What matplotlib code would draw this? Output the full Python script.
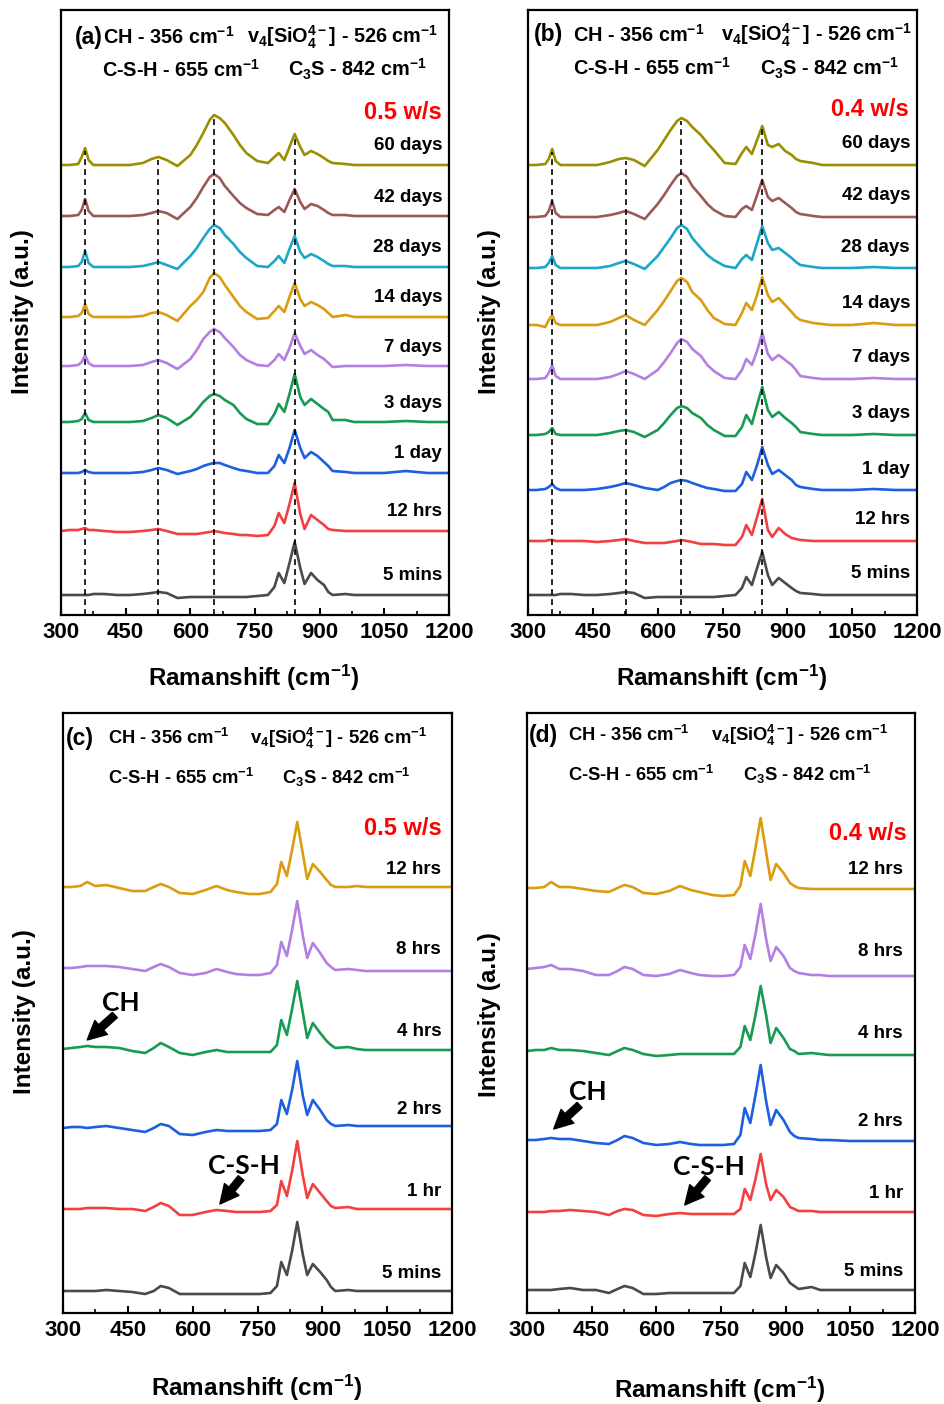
"""
Raman spectra of hydrating C3S pastes, stacked by curing time
"""

import numpy as np
import matplotlib.pyplot as plt
from matplotlib.ticker import MultipleLocator, AutoMinorLocator

plt.rcParams['font.family'] = ['Liberation Sans', 'DejaVu Sans']
plt.rcParams['font.weight'] = 'bold'
plt.rcParams['mathtext.fontset'] = 'custom'
plt.rcParams['mathtext.rm'] = 'Liberation Sans:bold'
plt.rcParams['mathtext.it'] = 'Liberation Sans:bold'
plt.rcParams['mathtext.bf'] = 'Liberation Sans:bold'
plt.rcParams['mathtext.default'] = 'rm'

W, H = 944, 1404

# Raman shift grids (cm-1)
shift_ab = [300, 320, 340, 348, 356, 364, 375, 400, 430, 460,
            490, 510, 526, 545, 570, 600, 615, 630, 645, 655,
            668, 680, 700, 715, 730, 755, 780, 795, 805, 818,
            830, 842, 855, 865, 880, 895, 910, 920, 930, 960,
            980, 1000, 1050, 1100, 1150, 1200]
shift_cd = [300, 320, 340, 356, 375, 400, 430, 460, 490, 510,
            526, 545, 570, 600, 630, 655, 680, 700, 730, 755,
            780, 795, 805, 818, 830, 842, 855, 865, 878, 895,
            910, 920, 930, 960, 980, 1000, 1050, 1100, 1150, 1200]

# (a) w/s 0.5, long term -- intensity above each trace baseline (a.u.)
a_5min = [0, 0, 0, 0, 0, 0, 1, 1, 0, 0, 1, 2, 3, 2, -3,
          -2, -2, -2, -2, -2, -2, -2, -2, -2, -2,
          -1, 0, 8, 22, 12, 32, 53, 27, 11, 22, 15, 10, 3, 0, 1, 0, 0, 0, 0, 0, 0]
a_12h = [0, 1, 1, 2, 3, 1, 1, 0, -1, -1, 0, 1, 2, 0, -3,
         -3, -3, -2, -1, 0, -1, -2, -3, -4, -4,
         -5, -4, 5, 18, 8, 27, 48, 17, 2, 16, 11, 6, 2, 1, 0, 0, 0, 0, 0, 0, 0]
a_1d = [0, 0, 0, 1, 3, 1, 0, 0, 0, 0, 1, 3, 5, 3, -1,
        2, 4, 7, 9, 10, 10, 8, 5, 3, 2,
        0, 0, 7, 18, 10, 25, 43, 25, 15, 21, 17, 11, 7, 2, 1, 0, 0, 0, 2, 0, 0]
a_3d = [0, 0, 1, 3, 9, 2, 0, 0, 0, 0, 1, 4, 7, 4, -3,
        5, 12, 20, 26, 28, 26, 22, 17, 9, 3,
        -2, -2, 8, 18, 10, 28, 48, 25, 17, 23, 18, 13, 10, 2, 2, 0, 0, 0, 1, 0, 0]
a_7d = [0, 0, 1, 4, 11, 3, 0, 0, 0, 0, 1, 4, 6, 3, -3,
        7, 16, 27, 34, 37, 34, 28, 19, 11, 6,
        1, 0, 6, 12, 6, 18, 33, 20, 12, 16, 11, 7, 3, -1, 0, 0, 0, 0, 1, 0, 0]
a_14d = [0, 0, 1, 4, 13, 3, 0, 0, 0, 0, 1, 4, 5, 2, -4,
         11, 17, 25, 39, 44, 40, 32, 20, 11, 5,
         -2, -1, 6, 11, 5, 20, 34, 18, 11, 15, 12, 8, 4, 0, 2, 0, 0, 0, 0, 0, 0]
a_28d = [0, 0, 1, 5, 16, 4, 0, 0, 0, 0, 1, 3, 5, 2, -2,
         11, 19, 29, 38, 42, 39, 32, 23, 15, 9,
         1, 0, 6, 11, 4, 18, 31, 15, 9, 13, 10, 6, 3, 1, 1, 0, 0, 0, 0, 0, 0]
a_42d = [0, 0, 1, 6, 17, 5, 0, 0, 0, 0, 1, 3, 5, 3, -3,
         9, 18, 29, 39, 42, 38, 30, 20, 13, 8,
         2, 1, 6, 9, 4, 16, 27, 14, 7, 12, 10, 6, 3, 1, 1, 0, 0, 0, 0, 0, 0]
a_60d = [0, 0, 1, 8, 17, 5, 0, 0, 0, 0, 2, 6, 8, 5, -1,
         10, 20, 32, 45, 50, 47, 42, 30, 20, 12,
         4, 2, 8, 12, 5, 18, 31, 18, 10, 14, 11, 7, 4, 2, 1, 0, 0, 0, 0, 0, 0]

# (b) w/s 0.4, long term
b_5min = [0, 0, 0, 0, 0, 0, 1, 1, 0, 0, 1, 2, 3, 2, -3,
          -2, -2, -2, -2, -2, -2, -2, -2, -2, -2,
          -1, 0, 7, 18, 10, 27, 43, 20, 10, 17, 12, 7, 4, 2, 1, 0, 0, 0, 0, 0, 0]
b_12h = [0, 0, 0, 1, 1, 0, 0, 0, 0, -1, 0, 1, 2, 0, -2,
         -2, -2, -1, 0, 1, 0, -1, -3, -3, -3,
         -4, -4, 4, 16, 6, 24, 42, 11, 4, 13, 7, 3, 2, 1, 0, 0, 0, 0, 0, 0, 0]
b_1d = [0, 0, 1, 3, 6, 2, 0, 0, 0, 1, 3, 5, 7, 5, 2,
        0, 3, 7, 9, 10, 9, 7, 4, 2, 1,
        -1, -1, 6, 18, 10, 25, 43, 25, 16, 20, 15, 10, 5, 3, 1, 0, 0, 0, 1, 0, 0]
b_3d = [0, 0, 1, 3, 7, 1, 0, 0, 0, 0, 2, 4, 5, 3, -2,
        5, 12, 20, 27, 29, 27, 22, 17, 10, 5,
        -1, -1, 8, 20, 11, 30, 48, 25, 18, 23, 17, 12, 8, 3, 1, 0, 0, 0, 1, 0, 0]
b_7d = [0, 0, 1, 6, 14, 3, 0, 0, 0, 0, 2, 5, 8, 5, 0,
        9, 17, 26, 36, 40, 37, 30, 23, 14, 8,
        1, 0, 9, 20, 14, 28, 46, 25, 19, 24, 19, 14, 9, 3, 1, 0, 0, 0, 1, 0, 0]
b_14d = [0, 0, -2, 5, 10, 2, 0, 0, 0, 0, 3, 7, 10, 5, 0,
         15, 24, 34, 44, 47, 43, 33, 25, 15, 7,
         1, 0, 12, 22, 15, 30, 48, 30, 23, 27, 20, 13, 8, 5, 2, 1, 0, 0, 2, 0, 0]
b_28d = [0, 0, 1, 5, 12, 3, 0, 0, 0, 0, 2, 5, 7, 4, -1,
         12, 21, 30, 40, 43, 39, 30, 20, 13, 8,
         2, 0, 9, 13, 8, 25, 42, 25, 18, 20, 15, 10, 6, 3, 1, 0, 0, 0, 1, 0, 0]
b_42d = [0, 0, 1, 6, 16, 4, 0, 0, 0, 0, 2, 4, 6, 3, -2,
         13, 22, 32, 41, 44, 40, 31, 21, 13, 7,
         1, 0, 8, 11, 7, 22, 37, 20, 16, 19, 14, 9, 5, 3, 1, 0, 0, 0, 0, 0, 0]
b_60d = [0, 0, 1, 6, 16, 4, 0, 0, 0, 0, 3, 6, 7, 5, -1,
         15, 25, 35, 44, 47, 44, 38, 30, 22, 15,
         2, 1, 12, 18, 11, 25, 39, 20, 18, 21, 14, 10, 6, 4, 2, 0, 0, 0, 0, 0, 0]

# (c) w/s 0.5, early age
c_5min = [0, 0, 0, 0, 0, 1, 0, -1, -3, 0, 5, 3, -3, -3, -3, -3, -3, -3, -3, -3,
          -2, 5, 29, 16, 40, 69, 36, 16, 27, 19, 11, 4, 0, 1, 0, 0, 0, 0, 0, 0]
c_1h = [0, 0, 0, 1, 1, 1, 0, 0, -2, 2, 6, 3, -6, -6, -3, -1, -2, -3, -3, -3,
        -2, 4, 28, 13, 38, 68, 33, 11, 25, 16, 8, 3, 1, 2, 0, 0, 0, 0, 0, 0]
c_2h = [0, 1, 1, 0, 1, 2, 0, -2, -4, 0, 4, 2, -6, -7, -4, -2, -3, -3, -3, -3,
        -2, 4, 28, 14, 38, 67, 32, 13, 28, 18, 8, 4, 2, 3, 2, 2, 2, 2, 2, 2]
c_4h = [0, 1, 2, 3, 2, 2, 1, -2, -4, 1, 6, 2, -4, -6, -3, -1, -3, -3, -3, -3,
        -3, 4, 29, 14, 40, 68, 36, 11, 26, 16, 8, 4, 1, 2, 0, -1, -1, -1, -1, -1]
c_8h = [0, 0, 1, 2, 2, 2, 1, -1, -3, 1, 4, 1, -5, -7, -5, -1, -4, -6, -7, -7,
        -5, 3, 26, 12, 38, 67, 32, 10, 25, 15, 5, 1, -2, -1, -2, -3, -3, -3, -3, -3]
c_12h = [0, 0, 1, 5, 1, 2, -1, -4, -4, 0, 3, 0, -6, -7, -3, 1, -3, -5, -7, -7,
         -5, 3, 25, 11, 37, 65, 33, 8, 23, 15, 7, 2, 0, 0, 1, 0, 0, 0, 0, 0]

# (d) w/s 0.4, early age
d_5min = [0, 0, 0, 0, 1, 2, 0, 0, -3, 1, 4, 2, -4, -4, -3, -3, -3, -3, -3, -3,
          -3, 4, 27, 13, 37, 65, 32, 12, 25, 17, 7, 4, 1, 3, 0, 0, 0, 0, 0, 0]
d_1h = [0, 0, 0, 1, 1, 2, 1, 0, -3, 1, 3, 2, -3, -4, -2, -1, -2, -2, -2, -2,
        -2, 3, 23, 12, 33, 58, 27, 12, 22, 15, 5, 3, 1, 1, 0, 0, 0, 0, 0, 0]
d_2h = [0, 0, 1, 2, 1, 1, -1, -3, -4, 0, 4, 2, -3, -5, -4, -2, -4, -5, -5, -5,
        -4, 5, 32, 17, 45, 75, 38, 15, 30, 20, 8, 4, 2, 1, 0, 0, -1, -1, -1, -1]
d_4h = [0, 1, 1, 3, 1, 1, 0, -2, -4, 0, 3, 1, -3, -5, -4, -3, -3, -3, -3, -3,
        -3, 4, 25, 11, 36, 65, 35, 8, 23, 13, 2, 0, -3, -2, -3, -4, -4, -4, -4, -4]
d_8h = [0, 1, 2, 4, 0, 0, -2, -6, -6, -2, 2, 0, -6, -7, -5, -1, -4, -6, -7, -7,
        -6, 2, 24, 10, 35, 65, 29, 8, 22, 13, 1, -2, -4, -6, -6, -7, -7, -7, -7, -7]
d_12h = [0, 0, 1, 6, 1, 1, -1, -3, -4, 0, 3, 1, -5, -6, -3, 2, -2, -4, -7, -8,
         -7, 2, 27, 12, 40, 70, 35, 8, 24, 15, 5, 2, 0, -1, -1, -1, -1, -1, -1, -1]

times_long = ['5 mins', '12 hrs', '1 day', '3 days', '7 days',
              '14 days', '28 days', '42 days', '60 days']
times_early = ['5 mins', '1 hr', '2 hrs', '4 hrs', '8 hrs', '12 hrs']

colors_long = ['#4a4a4a', '#f23f3f', '#1c5fe0', '#179a52', '#b47fe3',
               '#dc9c10', '#1ba7c9', '#9c5856', '#999000']
colors_early = colors_long[:6]

peaks = [356, 526, 655, 842]

fig = plt.figure(figsize=(W / 100, H / 100), dpi=100)


def add_ax(left, top, right, bottom):
    return fig.add_axes([left / W, 1 - bottom / H, (right - left) / W, (bottom - top) / H])


def draw_panel(ax, shift, spectra, offsets, names, colors, height, lab_x, lab_dy, dashed):
    for y, off, name, col in zip(spectra, offsets, names, colors):
        ax.plot(shift, np.array(y) + off, color=col, lw=1.9, solid_joinstyle='round')
        ax.text(lab_x, off + lab_dy, name, ha='right', va='center', fontsize=13.5)
    if dashed:
        top = np.array(spectra[-1]) + offsets[-1]
        for p in peaks:
            ax.vlines(p, 0, np.interp(p, shift, top) - 3, colors='k',
                      linestyles=(0, (3.5, 2.5)), lw=1.2, zorder=3)
    ax.set_xlim(300, 1200)
    ax.set_ylim(0, height)
    ax.xaxis.set_major_locator(MultipleLocator(150))
    ax.xaxis.set_minor_locator(AutoMinorLocator(2))
    ax.tick_params(axis='x', which='major', direction='in', length=5, width=1.5,
                   labelsize=16, pad=5)
    ax.tick_params(axis='x', which='minor', direction='in', length=3, width=1.2)
    ax.set_yticks([])
    for s in ax.spines.values():
        s.set_linewidth(1.6)


def header(ax, tag, xs, ys, size):
    x_tag, x_ch, x_v4, x_csh, x_c3s = xs
    y1, y2 = ys
    kw = dict(transform=ax.transAxes, va='center', ha='left', fontsize=size)
    ax.text(x_tag, y1, tag, transform=ax.transAxes, va='center', ha='left', fontsize=16.5)
    ax.text(x_ch, y1, r'CH - 356 cm$^{-1}$', **kw)
    ax.text(x_v4, y1, r'v$_4$[SiO$_4^{4-}$] - 526 cm$^{-1}$', **kw)
    ax.text(x_csh, y2, r'C-S-H - 655 cm$^{-1}$', **kw)
    ax.text(x_c3s, y2, r'C$_3$S - 842 cm$^{-1}$', **kw)


def ws_label(ax, text, x, y):
    ax.text(x, y, text, transform=ax.transAxes, ha='right', va='center',
            color='#ff0000', fontsize=17)


def pointer(ax, text, xy_text, tail, tip):
    ax.annotate('', xy=tip, xytext=tail,
                arrowprops=dict(arrowstyle='simple,head_length=0.9,head_width=0.9,tail_width=0.35',
                                color='k', shrinkA=0, shrinkB=0, mutation_scale=15))
    ax.text(*xy_text, text, ha='center', va='center', fontsize=19,
            family=['Lato', 'DejaVu Sans'], fontweight='bold')


ax_a = add_ax(61, 10, 449, 615)
ax_b = add_ax(528, 10, 917, 615)
ax_c = add_ax(63, 713, 452, 1313)
ax_d = add_ax(527, 713, 915, 1313)

draw_panel(ax_a, shift_ab,
           [a_5min, a_12h, a_1d, a_3d, a_7d, a_14d, a_28d, a_42d, a_60d],
           [20, 84, 142, 193, 249, 298, 348, 399, 450],
           times_long, colors_long, 605, 1184, 19, True)
draw_panel(ax_b, shift_ab,
           [b_5min, b_12h, b_1d, b_3d, b_7d, b_14d, b_28d, b_42d, b_60d],
           [20, 74, 125, 180, 236, 290, 347, 398, 450],
           times_long, colors_long, 605, 1184, 21, True)
draw_panel(ax_c, shift_cd,
           [c_5min, c_1h, c_2h, c_4h, c_8h, c_12h],
           [22, 104, 185, 264, 345, 426],
           times_early, colors_early, 600, 1175, 18, False)
draw_panel(ax_d, shift_cd,
           [d_5min, d_1h, d_2h, d_4h, d_8h, d_12h],
           [23, 101, 173, 262, 344, 425],
           times_early, colors_early, 600, 1172, 18, False)

header(ax_a, '(a)', (0.036, 0.108, 0.480, 0.105, 0.585), (0.955, 0.901), 14.3)
header(ax_b, '(b)', (0.016, 0.116, 0.497, 0.116, 0.596), (0.959, 0.904), 14.3)
header(ax_c, '(c)', (0.008, 0.116, 0.481, 0.116, 0.563), (0.958, 0.892), 13.2)
header(ax_d, '(d)', (0.006, 0.106, 0.475, 0.106, 0.557), (0.963, 0.897), 13.2)

ws_label(ax_a, '0.5 w/s', 0.982, 0.831)
ws_label(ax_b, '0.4 w/s', 0.979, 0.835)
ws_label(ax_c, '0.5 w/s', 0.974, 0.808)
ws_label(ax_d, '0.4 w/s', 0.979, 0.800)

pointer(ax_c, 'CH', (434, 310), (420, 298), (356, 273))
pointer(ax_c, 'C-S-H', (719, 147), (712, 135), (663, 109))
pointer(ax_d, 'CH', (441, 221), (422, 208), (362, 184))
pointer(ax_d, 'C-S-H', (722, 146), (719, 135), (666, 108))

# axis titles placed in figure pixels
for cx, cy in [(254, 678), (722, 678), (257, 1388), (720, 1390)]:
    fig.text(cx / W, 1 - cy / H, r'Ramanshift (cm$^{-1}$)', ha='center', va='center', fontsize=17.5)
for cx, cy in [(23, 312), (490, 312), (25, 1012), (490, 1015)]:
    fig.text(cx / W, 1 - cy / H, 'Intensity (a.u.)', ha='center', va='center',
             rotation=90, fontsize=17.5)

fig.savefig('out.png', dpi=100)
